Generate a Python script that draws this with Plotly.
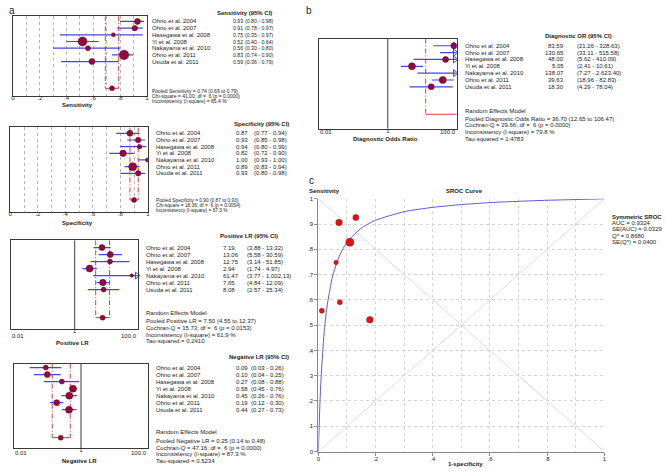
import plotly.graph_objects as go

# ---------------- data ----------------
studies = ["Ohno et al. 2004", "Ohno et al. 2007", "Hasegawa et al. 2008", "Yi et al. 2008",
           "Nakayama et al. 2010", "Ohno et al. 2011", "Usuda et al. 2011"]

sens = [0.93, 0.91, 0.75, 0.52, 0.56, 0.83, 0.59]
sens_lo = [0.80, 0.78, 0.35, 0.40, 0.30, 0.74, 0.36]
sens_hi = [0.98, 0.97, 0.97, 0.64, 0.80, 0.90, 0.79]
sens_pool = [0.74, 0.69, 0.79]

spec = [0.87, 0.93, 0.94, 0.82, 1.00, 0.89, 0.93]
spec_lo = [0.77, 0.85, 0.80, 0.72, 0.93, 0.83, 0.80]
spec_hi = [0.94, 0.98, 0.99, 0.90, 1.00, 0.94, 0.98]
spec_pool = [0.90, 0.87, 0.93]

plr = [7.19, 13.06, 12.75, 2.94, 61.47, 7.65, 8.08]
plr_lo = [3.88, 5.58, 3.14, 1.74, 3.77, 4.84, 2.57]
plr_hi = [13.32, 30.59, 51.85, 4.97, 1002.13, 12.09, 25.34]
plr_pool = [7.50, 4.55, 12.37]

nlr = [0.09, 0.10, 0.27, 0.58, 0.45, 0.19, 0.44]
nlr_lo = [0.03, 0.04, 0.08, 0.45, 0.26, 0.12, 0.27]
nlr_hi = [0.26, 0.25, 0.88, 0.76, 0.76, 0.30, 0.73]
nlr_pool = [0.25, 0.14, 0.48]

dor = [83.59, 130.65, 48.00, 5.05, 138.07, 39.63, 18.30]
dor_lo = [21.26, 33.11, 5.62, 2.41, 7.27, 18.96, 4.29]
dor_hi = [328.63, 515.58, 410.09, 10.61, 2623.40, 82.83, 78.04]
dor_pool = [36.70, 12.65, 106.47]

# study weights shown as marker sizes
sens_w = [6, 5.5, 4, 9, 5, 9.5, 6]
spec_w = [6, 5.5, 4.5, 6.5, 4.5, 8, 5.5]
plr_w = [6, 6, 5, 7, 3.5, 6.5, 5]
nlr_w = [5, 6, 5, 7, 7, 6, 7]
dor_w = [6, 6, 6, 7, 6, 7, 6]

# SROC points (1-specificity, sensitivity)
sroc_fpr = [0.131, 0.072, 0.062, 0.180, 0.012, 0.110, 0.075]
sroc_tpr = [0.926, 0.906, 0.748, 0.521, 0.557, 0.828, 0.591]
sroc_w = [6, 6.5, 4.5, 6.5, 5, 8, 5]
# symmetric SROC curve
curve_fpr = [0, 0.005, 0.01, 0.02, 0.03, 0.05, 0.075, 0.1, 0.15, 0.2, 0.3, 0.4, 0.5, 0.6, 0.7, 0.8, 0.9, 1.0]
curve_tpr = [0, 0.178, 0.304, 0.469, 0.572, 0.695, 0.778, 0.828, 0.884, 0.915, 0.949, 0.966, 0.977, 0.985, 0.990, 0.994, 0.997, 1.0]

sens_stats = ["Pooled Sensitivity = 0.74 (0.69 to 0.79)", "Chi-square = 41.00; df =  6 (p = 0.0000)",
              "Inconsistency (I-square) = 85.4 %"]
spec_stats = ["Pooled Specificity = 0.90 (0.87 to 0.93)", "Chi-square = 18.36; df =  6 (p = 0.0054)",
              "Inconsistency (I-square) = 67.3 %"]
plr_stats = ["Random Effects Model", "Pooled Positive LR = 7.50 (4.55 to 12.37)",
             "Cochran-Q = 15.73; df =  6 (p = 0.0153)", "Inconsistency (I-square) = 61.9 %",
             "Tau-squared = 0.2410"]
nlr_stats = ["Random Effects Model", "Pooled Negative LR = 0.25 (0.14 to 0.48)",
             "Cochran-Q = 47.16; df =  6 (p = 0.0000)", "Inconsistency (I-square) = 87.3 %",
             "Tau-squared = 0.5234"]
dor_stats = ["Random Effects Model", "Pooled Diagnostic Odds Ratio = 36.70 (12.65 to 106.47)",
             "Cochran-Q = 29.66; df =  6 (p = 0.0000)", "Inconsistency (I-square) = 79.8 %",
             "Tau-squared = 1.4783"]
sroc_stats = ["AUC = 0.9324", "SE(AUC) = 0.0329", "Q* = 0.8680", "SE(Q*) = 0.0400"]

# ---------------- layout helpers ----------------
W, H = 666, 471
FONT = "Liberation Sans, Arial, sans-serif"
DOT_RED = "#930b3a"
BLUE = "#4646d8"
RED = "#e8343c"
TXT = "#1a1a1a"
FS = 6


def px(x):
    return x / W


def py(y):
    return 1 - y / H


fig = go.Figure()
ann = []


def txt(x, y, s, size=FS, bold=False, xanchor="left", yref="paper", yv=None):
    ann.append(dict(x=px(x), xref="paper", y=(py(y) if yref == "paper" else yv), yref=yref,
                    text=("<b>%s</b>" % s if bold else s), showarrow=False, xanchor=xanchor,
                    yanchor="middle", font=dict(family=FONT, size=size, color=TXT)))


def fmt(v):
    return "{:,.2f}".format(v)


panels = [
    dict(k="", est=sens, lo=sens_lo, hi=sens_hi, pool=sens_pool, w=sens_w, log=False,
         x0=11, x1=145.7, top=13.3, bot=94.3, r0=18.7, sp=6.77, vfs=5.2, sfs=5.0,
         name_x=149, val_x=230.5, val_anchor="left", ci_x=242, head="Sensitivity (95% CI)", head_x=244, head_y=10,
         stats=sens_stats, stats_y=[89.5, 94.3, 99.1], stats_x=149, tick_y=97, title="Sensitivity", title_y=103.5,
         pool_marker=True),
    dict(k="2", est=spec, lo=spec_lo, hi=spec_hi, pool=spec_pool, w=spec_w, log=False,
         x0=8.3, x1=146.7, top=126, bot=211.3, r0=132, sp=6.75, vfs=FS, sfs=4.8,
         name_x=153, val_x=233, val_anchor="left", ci_x=252, head="Specificity (95% CI)", head_x=261, head_y=123,
         stats=spec_stats, stats_y=[200.0, 204.9, 209.8], stats_x=153, tick_y=216, title="Specificity", title_y=222.5,
         pool_marker=True),
    dict(k="3", est=plr, lo=plr_lo, hi=plr_hi, pool=plr_pool, w=plr_w, log=True,
         x0=9, x1=137.3, top=240.3, bot=330.3, r0=247.7, sp=7.1, vfs=FS, sfs=FS,
         name_x=143, val_x=220, val_anchor="left", ci_x=244, head="Positive LR (95% CI)", head_x=248, head_y=236,
         stats=plr_stats, stats_y=[314, 322.3, 329.3, 336, 342.7], stats_x=143, tick_y=337.5, title="Positive LR",
         title_y=344, pool_marker=True),
    dict(k="4", est=nlr, lo=nlr_lo, hi=nlr_hi, pool=nlr_pool, w=nlr_w, log=True,
         x0=11.7, x1=147.3, top=365.3, bot=451, r0=369.3, sp=7.1, vfs=FS, sfs=FS,
         name_x=153, val_x=233.3, val_anchor="left", ci_x=248.3, head="Negative LR (95% CI)", head_x=259, head_y=359,
         stats=nlr_stats, stats_y=[435, 443.5, 450.5, 457.3, 464], stats_x=153, tick_y=456, title="Negative LR",
         title_y=464, pool_marker=True),
    dict(k="5", est=dor, lo=dor_lo, hi=dor_hi, pool=dor_pool, w=dor_w, log=True,
         x0=319, x1=457.3, top=36, bot=127.3, r0=43.3, sp=6.94, vfs=FS, sfs=FS,
         name_x=464, val_x=567, val_anchor="right", ci_x=576, head="Diagnostic OR (95% CI)", head_x=579.5, head_y=33,
         stats=dor_stats, stats_y=[109.3, 117, 124, 131, 137.5], stats_x=464, tick_y=131, title="Diagnostic Odds Ratio",
         title_y=137.8, pool_marker=False),
]

POOL_ROW = 10
layout_axes = {}
for p in panels:
    k = p["k"]
    xa, ya = "x" + k, "y" + k
    ytop = (p["top"] - p["r0"]) / p["sp"]
    ybot = (p["bot"] - p["r0"]) / p["sp"]
    rows = list(range(len(studies)))
    axis_common = dict(showline=True, mirror=True, linecolor="#3a3a3a", linewidth=1, zeroline=False)
    xdict = dict(domain=[px(p["x0"]), px(p["x1"])], anchor=ya, **axis_common,
                 tickfont=dict(family=FONT, size=FS, color=TXT), ticks="", ticklabelstandoff=-4)
    if p["log"]:
        xdict.update(type="log", range=[-2, 2], tickvals=[1], ticktext=["1"], showgrid=False)
    else:
        xdict.update(range=[0, 1], tickvals=[0, 0.2, 0.4, 0.6, 0.8, 1.0],
                     ticktext=["0", ".2", ".4", ".6", ".8", "1"], showgrid=True, gridcolor="#b4b4b4",
                     griddash="dot", gridwidth=1,
                     minor=dict(tickvals=[0.1, 0.3, 0.5, 0.7, 0.9], showgrid=True, gridcolor="#b4b4b4",
                                griddash="dot", gridwidth=1))
    ydict = dict(domain=[py(p["bot"]), py(p["top"])], anchor=xa, range=[ybot, ytop], showticklabels=False,
                 showgrid=False, ticks="", **axis_common)
    layout_axes["xaxis" + k] = xdict
    layout_axes["yaxis" + k] = ydict

    # reference line at 1 for ratio scales
    if p["log"]:
        fig.add_trace(go.Scatter(x=[1, 1], y=[ytop, ybot], xaxis=xa, yaxis=ya, mode="lines",
                                 line=dict(color="#3a3a3a", width=1), hoverinfo="skip"))
    # pooled bracket
    pe, pl, ph = p["pool"]
    fig.add_trace(go.Scatter(x=[pl, pl, None, ph, ph], y=[ytop, POOL_ROW, None, ytop, POOL_ROW],
                             xaxis=xa, yaxis=ya, mode="lines",
                             line=dict(color=RED, width=1, dash="5px,2px,1px,2px"), hoverinfo="skip"))
    fig.add_trace(go.Scatter(x=[pl, ph], y=[POOL_ROW, POOL_ROW], xaxis=xa, yaxis=ya, mode="lines",
                             line=dict(color=RED, width=1), hoverinfo="skip"))
    # CI lines
    cx, cy = [], []
    for r, lo, hi in zip(rows, p["lo"], p["hi"]):
        cx += [lo, hi, None]
        cy += [r, r, None]
    fig.add_trace(go.Scatter(x=cx, y=cy, xaxis=xa, yaxis=ya, mode="lines",
                             line=dict(color=BLUE, width=1.2), hoverinfo="skip"))
    # arrows for CIs leaving the scale
    if p["log"]:
        ar = [r for r, hi in zip(rows, p["hi"]) if hi > 100]
        if ar:
            fig.add_trace(go.Scatter(x=[10 ** 1.955] * len(ar), y=ar, xaxis=xa, yaxis=ya, mode="markers",
                                     marker=dict(symbol="triangle-right-open", size=6, color=BLUE,
                                                 line=dict(width=1, color=BLUE)),
                                     cliponaxis=False, hoverinfo="skip"))
    # study estimates
    fig.add_trace(go.Scatter(x=p["est"], y=rows, xaxis=xa, yaxis=ya, mode="markers",
                             marker=dict(size=p["w"], color=DOT_RED, opacity=1,
                                         line=dict(width=0.5, color="#5a0020")),
                             hoverinfo="skip"))
    if p["pool_marker"]:
        fig.add_trace(go.Scatter(x=[pe], y=[POOL_ROW], xaxis=xa, yaxis=ya, mode="markers",
                                 marker=dict(size=5, color=DOT_RED, opacity=1,
                                             line=dict(width=0.5, color="#5a0020")),
                                 hoverinfo="skip"))

    # text columns
    for r, s, e, lo, hi in zip(rows, studies, p["est"], p["lo"], p["hi"]):
        txt(p["name_x"], 0, s, yref=ya, yv=r)
        txt(p["val_x"], 0, fmt(e), yref=ya, yv=r, xanchor=p["val_anchor"], size=p["vfs"])
        txt(p["ci_x"], 0, "(%s - %s)" % (fmt(lo), fmt(hi)), yref=ya, yv=r, size=p["vfs"])
    txt(p["head_x"], p["head_y"], p["head"], bold=True, xanchor="center")
    for s, yy in zip(p["stats"], p["stats_y"]):
        txt(p["stats_x"], yy, s, size=p["sfs"])
    txt((p["x0"] + p["x1"]) / 2 - 2, p["title_y"], p["title"], bold=True, xanchor="center")
    if p["log"]:
        txt(p["x0"] - 1, p["tick_y"], "0.01", xanchor="left")
        txt(p["x1"] + 1, p["tick_y"], "100.0", xanchor="right")

# ---------------- SROC panel ----------------
sx0, sx1, sy1, sy0 = 318.3, 606, 198.3, 454.3
tenths = [i / 10 for i in range(11)]
lab = ["0", ".1", ".2", ".3", ".4", ".5", ".6", ".7", ".8", ".9", "1"]
layout_axes["xaxis6"] = dict(domain=[px(sx0), px(sx1)], anchor="y6", range=[0, 1],
                             tickvals=tenths[::2], ticktext=lab[::2], showgrid=True, gridcolor="#d4d4d4",
                             griddash="dot", gridwidth=1,
                             minor=dict(tickvals=tenths[1::2], showgrid=True, gridcolor="#d4d4d4",
                                        griddash="dot", gridwidth=1),
                             showline=True, linecolor="#8a8a8a", linewidth=1, zeroline=False,
                             ticks="outside", ticklen=3, tickcolor="#8a8a8a", ticklabelstandoff=-2,
                             tickfont=dict(family=FONT, size=FS, color=TXT))
layout_axes["yaxis6"] = dict(domain=[py(sy0), py(sy1)], anchor="x6", range=[0, 1],
                             tickvals=tenths, ticktext=lab, showgrid=True, gridcolor="#d4d4d4",
                             griddash="dot", gridwidth=1,
                             showline=True, linecolor="#8a8a8a", linewidth=1, zeroline=False,
                             ticks="outside", ticklen=3, tickcolor="#8a8a8a",
                             tickfont=dict(family=FONT, size=FS, color=TXT))
fig.add_trace(go.Scatter(x=[0, 1, None, 0, 1], y=[1, 0, None, 0, 1], xaxis="x6", yaxis="y6", mode="lines",
                         line=dict(color="#dcdcdc", width=1), hoverinfo="skip"))
fig.add_trace(go.Scatter(x=curve_fpr, y=curve_tpr, xaxis="x6", yaxis="y6", mode="lines",
                         line=dict(color="#5a5ad8", width=1, shape="spline", smoothing=0.6), hoverinfo="skip"))
fig.add_trace(go.Scatter(x=sroc_fpr, y=sroc_tpr, xaxis="x6", yaxis="y6", mode="markers",
                         marker=dict(size=sroc_w, color="#e01414", opacity=1, line=dict(width=0.5, color="#a00000")),
                         cliponaxis=False, hoverinfo="skip"))
txt(465, 190, "SROC Curve", bold=True, xanchor="center")
txt(307, 190, "Sensitivity", bold=True)
txt(466, 466.5, "1-specificity", bold=True, xanchor="center")
txt(612, 216.7, "Symmetric SROC", bold=True)
for s, yy in zip(sroc_stats, [222.5, 229, 235.7, 242.3]):
    txt(612, yy, s)

# panel letters
txt(5, 8, "a", size=10)
txt(304, 8, "b", size=10)
txt(307, 180, "c", size=10)

fig.update_layout(width=W, height=H, margin=dict(l=0, r=0, t=0, b=0), showlegend=False,
                  plot_bgcolor="white", paper_bgcolor="white", annotations=ann, **layout_axes)
fig.write_html("out.html", config={"displayModeBar": False},
               post_script="document.body.style.margin='0px';document.body.style.overflow='hidden';")
